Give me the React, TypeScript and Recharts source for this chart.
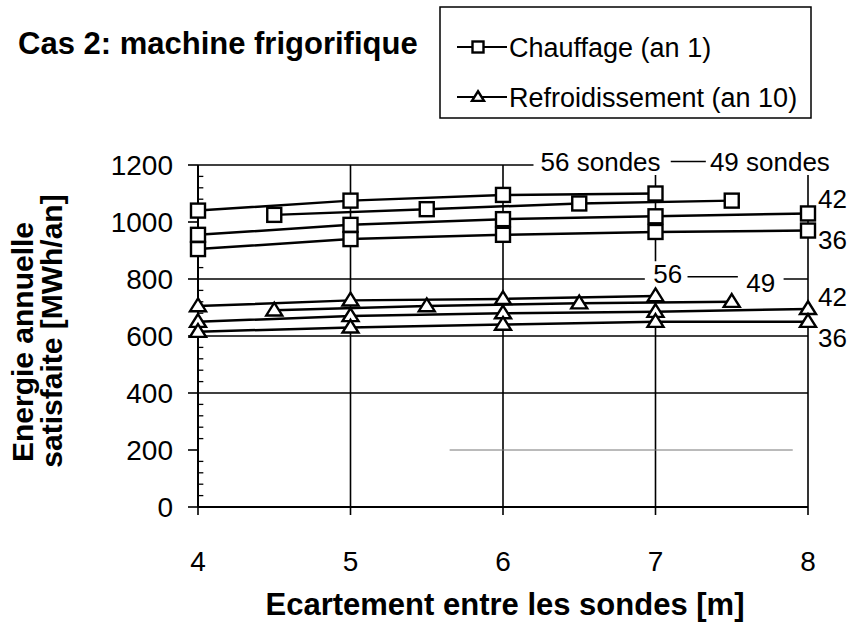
import React from "react";
import {
  CartesianGrid,
  Line,
  LineChart,
  ReferenceArea,
  ReferenceDot,
  ReferenceLine,
  XAxis,
  YAxis,
} from "recharts";

const FONT = '"Liberation Sans", Arial, Helvetica, sans-serif';

// écartement entre les sondes [m]
const spacingAll = [4, 5, 6, 7, 8];
const spacing56 = [4, 5, 6, 7];
const spacing49 = [4.5, 5.5, 6.5, 7.5];

// Chauffage (an 1) [MWh/an]
const chauffage56 = [1040, 1075, 1095, 1100];
const chauffage49 = [1025, 1045, 1065, 1075];
const chauffage42 = [955, 990, 1010, 1020, 1030];
const chauffage36 = [905, 940, 955, 965, 970];

// Refroidissement (an 10) [MWh/an]
const refroid56 = [705, 725, 730, 740];
const refroid49 = [690, 705, 715, 720];
const refroid42 = [650, 670, 680, 685, 695];
const refroid36 = [615, 630, 640, 650, 650];

const xTicks = [4, 5, 6, 7, 8];
const yTicks = [0, 200, 400, 600, 800, 1000, 1200];
const yMinorTicks = Array.from({ length: 31 }, (_, i) => i * 40).filter((v) => v % 200 !== 0);

const legendNames = ["Chauffage (an 1)", "Refroidissement (an 10)"];

const toPoints = (xs: number[], ys: number[]) => xs.map((x, i) => ({ x, y: ys[i] }));

const series = [
  { key: "c56", data: toPoints(spacing56, chauffage56), mark: "square" },
  { key: "c49", data: toPoints(spacing49, chauffage49), mark: "square" },
  { key: "c42", data: toPoints(spacingAll, chauffage42), mark: "square" },
  { key: "c36", data: toPoints(spacingAll, chauffage36), mark: "square" },
  { key: "r56", data: toPoints(spacing56, refroid56), mark: "triangle" },
  { key: "r49", data: toPoints(spacing49, refroid49), mark: "triangle" },
  { key: "r42", data: toPoints(spacingAll, refroid42), mark: "triangle" },
  { key: "r36", data: toPoints(spacingAll, refroid36), mark: "triangle" },
];

// annotation texts, placed in data coordinates
const notes = [
  { text: "56 sondes", x: 6.64, y: 1212, anchor: "middle", dx: 0 },
  { text: "49 sondes", x: 7.75, y: 1212, anchor: "middle", dx: 0 },
  { text: "56", x: 7.08, y: 818, anchor: "middle", dx: 0 },
  { text: "49", x: 7.69, y: 787, anchor: "middle", dx: 0 },
  { text: "42", x: 8, y: 1084, anchor: "start", dx: 10 },
  { text: "36", x: 8, y: 940, anchor: "start", dx: 10 },
  { text: "42", x: 8, y: 737, anchor: "start", dx: 10 },
  { text: "36", x: 8, y: 596, anchor: "start", dx: 10 },
];

function Square({ cx, cy, s = 14 }: { cx: number; cy: number; s?: number }) {
  return (
    <rect x={cx - s / 2} y={cy - s / 2} width={s} height={s} fill="#fff" stroke="#000" strokeWidth={2.4} />
  );
}

function Triangle({ cx, cy, s = 16 }: { cx: number; cy: number; s?: number }) {
  const h = s * 0.8;
  return (
    <polygon
      points={`${cx},${cy - h * 0.6} ${cx + s / 2},${cy + h * 0.4} ${cx - s / 2},${cy + h * 0.4}`}
      fill="#fff"
      stroke="#000"
      strokeWidth={2.4}
      strokeLinejoin="miter"
    />
  );
}

const makeDot = (mark: string) => (props: any) => {
  const { cx, cy, index } = props;
  if (cx == null || cy == null) return <g key={index} />;
  return (
    <g key={index}>
      {mark === "square" ? <Square cx={cx} cy={cy} /> : <Triangle cx={cx} cy={cy} />}
    </g>
  );
};

const YTick = ({ x, y, payload }: any) => (
  <text x={x - 13} y={y + 10} textAnchor="end" fontSize={28} fontFamily={FONT} fill="#000">
    {payload.value}
  </text>
);

const XTick = ({ x, y, payload }: any) => (
  <text x={x} y={y + 54} textAnchor="middle" fontSize={28} fontFamily={FONT} fill="#000">
    {payload.value}
  </text>
);

export default function App() {
  return (
    <div style={{ position: "absolute", left: 0, top: 0, width: 849, height: 625, background: "#fff" }}>
      <LineChart width={849} height={625} margin={{ top: 165, right: 41, bottom: 0, left: 0 }}>
        <CartesianGrid
          horizontalValues={[400, 600, 800, 1200]}
          verticalValues={[5, 6, 7, 8]}
          stroke="#000"
          strokeWidth={1.6}
        />
        <XAxis
          type="number"
          dataKey="x"
          domain={[4, 8]}
          ticks={xTicks}
          interval={0}
          height={118}
          tickSize={8}
          axisLine={{ stroke: "#000", strokeWidth: 2 }}
          tickLine={{ stroke: "#000", strokeWidth: 1.6 }}
          tick={<XTick />}
        />
        <YAxis
          type="number"
          domain={[0, 1200]}
          ticks={yTicks}
          interval={0}
          width={198}
          tickSize={10}
          axisLine={{ stroke: "#000", strokeWidth: 2 }}
          tickLine={{ stroke: "#000", strokeWidth: 1.6 }}
          tick={<YTick />}
        />
        {/* minor ticks pointing into the plot */}
        {yMinorTicks.map((v) => (
          <ReferenceLine
            key={`m${v}`}
            segment={[{ x: 4, y: v }, { x: 4.035, y: v }]}
            stroke="#000"
            strokeWidth={1.3}
          />
        ))}
        <ReferenceArea x1={6.2} x2={8.4} y1={1165} y2={1260} fill="#fff" fillOpacity={1} stroke="none" ifOverflow="visible" />
        <ReferenceArea x1={6.93} x2={7.84} y1={755} y2={862} fill="#fff" fillOpacity={1} stroke="none" ifOverflow="visible" />
        <ReferenceLine segment={[{ x: 5.65, y: 200 }, { x: 7.9, y: 200 }]} stroke="#777" strokeWidth={1} />
        <ReferenceLine segment={[{ x: 7.1, y: 1212 }, { x: 7.33, y: 1212 }]} stroke="#000" strokeWidth={1.5} ifOverflow="visible" />
        <ReferenceLine segment={[{ x: 7.21, y: 808 }, { x: 7.54, y: 808 }]} stroke="#000" strokeWidth={1.5} />
        {series.map((s) => (
          <Line
            key={s.key}
            data={s.data}
            dataKey="y"
            type="linear"
            stroke="#000"
            strokeWidth={2.5}
            dot={makeDot(s.mark)}
            activeDot={false}
            isAnimationActive={false}
          />
        ))}
        {notes.map((n, i) => (
          <ReferenceDot
            key={i}
            x={n.x}
            y={n.y}
            ifOverflow="visible"
            shape={(p: any) => (
              <text
                x={p.cx + n.dx}
                y={p.cy + 9.5}
                textAnchor={n.anchor}
                fontSize={26}
                fontFamily={FONT}
                fill="#000"
              >
                {n.text}
              </text>
            )}
          />
        ))}
      </LineChart>

      <svg width={849} height={625} style={{ position: "absolute", left: 0, top: 0, pointerEvents: "none" }}>
        <text x={18} y={54} fontSize={31} fontWeight="bold" fontFamily={FONT} fill="#000">
          Cas 2: machine frigorifique
        </text>
        <rect x={440} y={7} width={371} height={111} fill="none" stroke="#000" strokeWidth={1.5} />
        {legendNames.map((name, i) => {
          const cy = 47 + i * 50;
          return (
            <g key={name}>
              <line x1={457} x2={507} y1={cy} y2={cy} stroke="#000" strokeWidth={2} />
              {i === 0 ? <Square cx={478} cy={cy} s={11} /> : <Triangle cx={478} cy={cy} s={12} />}
              <text x={509} y={cy + 9.7} fontSize={27} fontFamily={FONT} fill="#000">
                {name}
              </text>
            </g>
          );
        })}
        <text x={505} y={615} textAnchor="middle" fontSize={31} fontWeight="bold" fontFamily={FONT} fill="#000">
          Ecartement entre les sondes [m]
        </text>
        <text
          transform="translate(33,342) rotate(-90)"
          textAnchor="middle"
          fontSize={30}
          fontWeight="bold"
          fontFamily={FONT}
          fill="#000"
        >
          Energie annuelle
        </text>
        <text
          transform="translate(62,331) rotate(-90)"
          textAnchor="middle"
          fontSize={30}
          fontWeight="bold"
          fontFamily={FONT}
          fill="#000"
        >
          satisfaite [MWh/an]
        </text>
      </svg>
    </div>
  );
}
